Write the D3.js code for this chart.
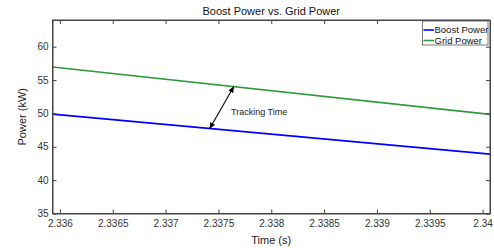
<!DOCTYPE html>
<html><head><meta charset="utf-8">
<script src="https://cdn.jsdelivr.net/npm/d3@7"></script>
<style>body{margin:0;background:#fff}svg{display:block;font-family:"Liberation Sans",Arial,sans-serif}</style>
</head><body>
<svg id="c" width="494" height="248"></svg>
<script>
const title = "Boost Power vs. Grid Power";
const xLabel = "Time (s)";
const yLabel = "Power (kW)";
const xDomain = [2.33593, 2.34007];
const yDomain = [35, 64];
const xTicks = [2.336, 2.3365, 2.337, 2.3375, 2.338, 2.3385, 2.339, 2.3395, 2.34];
const xTickLabels = ["2.336", "2.3365", "2.337", "2.3375", "2.338", "2.3385", "2.339", "2.3395", "2.34"];
const yTicks = [35, 40, 45, 50, 55, 60];
const time = [2.33593, 2.34007];
const boostPower = [49.9, 43.9];
const gridPower = [56.95, 49.85];
const seriesNames = ["Boost Power", "Grid Power"];
const seriesColors = ["#0000ff", "#2e9a3a"];
const annotation = "Tracking Time";
const arrowTimes = [2.337418, 2.337645]; // boost point, grid point

const svg = d3.select("#c");
const m = {l: 52.5, r: 490, t: 20, b: 213.5};
const x = d3.scaleLinear().domain(xDomain).range([m.l, m.r]);
const y = d3.scaleLinear().domain(yDomain).range([m.b, m.t]);
const axisCol = "#444";

// lines
const series = [boostPower, gridPower];
const line = d3.line().x((d, i) => x(time[i])).y(d => y(d));
svg.append("defs").append("clipPath").attr("id", "clip").append("rect")
  .attr("x", m.l).attr("y", m.t).attr("width", m.r - m.l).attr("height", m.b - m.t);
series.forEach((s, k) => {
  svg.append("path").datum(s).attr("d", line).attr("fill", "none")
    .attr("stroke", seriesColors[k]).attr("stroke-width", 1.6).attr("clip-path", "url(#clip)");
});

// axes
const tl = 4;
const gx = svg.append("g").attr("transform", `translate(0,${m.b})`)
  .call(d3.axisBottom(x).tickValues(xTicks).tickFormat((d, i) => xTickLabels[i]).tickSizeInner(-tl).tickSizeOuter(0).tickPadding(6));
const gxt = svg.append("g").attr("transform", `translate(0,${m.t})`)
  .call(d3.axisTop(x).tickValues(xTicks).tickFormat("").tickSizeInner(-tl).tickSizeOuter(0));
const gy = svg.append("g").attr("transform", `translate(${m.l},0)`)
  .call(d3.axisLeft(y).tickValues(yTicks).tickSizeInner(-tl).tickSizeOuter(0).tickPadding(4));
const gyr = svg.append("g").attr("transform", `translate(${m.r},0)`)
  .call(d3.axisRight(y).tickValues(yTicks).tickFormat("").tickSizeInner(-tl).tickSizeOuter(0));
[gx, gxt, gy, gyr].forEach(g => {
  g.selectAll(".domain").attr("stroke", axisCol);
  g.selectAll(".tick line").attr("stroke", axisCol);
  g.selectAll("text").attr("fill", "#333").style("font-size", "10px").style("font-family", "Liberation Sans, Arial, sans-serif");
});
gx.selectAll("text").attr("dy", "0.71em").attr("y", 6);

// title and labels
svg.append("text").attr("x", (m.l + m.r) / 2).attr("y", 15).attr("text-anchor", "middle")
  .style("font-size", "11px").attr("fill", "#111").text(title);
svg.append("text").attr("x", (m.l + m.r) / 2).attr("y", 244).attr("text-anchor", "middle")
  .style("font-size", "11px").attr("fill", "#222").text(xLabel);
svg.append("text").attr("transform", `translate(26,${(m.t + m.b) / 2}) rotate(-90)`).attr("text-anchor", "middle")
  .style("font-size", "11px").attr("fill", "#222").text(yLabel);

// arrow annotation
const interp = (s, t) => s[0] + (s[1] - s[0]) * (t - time[0]) / (time[1] - time[0]);
const p1 = [x(arrowTimes[0]), y(interp(boostPower, arrowTimes[0]))];
const p2 = [x(arrowTimes[1]), y(interp(gridPower, arrowTimes[1]))];
const defs = svg.select("defs");
defs.append("marker").attr("id", "ah").attr("viewBox", "0 0 10 10").attr("refX", 9).attr("refY", 5)
  .attr("markerWidth", 6).attr("markerHeight", 6).attr("orient", "auto-start-reverse")
  .append("path").attr("d", "M0,1 L10,5 L0,9 z").attr("fill", "#000");
svg.append("line").attr("x1", p1[0]).attr("y1", p1[1]).attr("x2", p2[0]).attr("y2", p2[1])
  .attr("stroke", "#000").attr("stroke-width", 1.1)
  .attr("marker-start", "url(#ah)").attr("marker-end", "url(#ah)");
svg.append("text").attr("x", 231).attr("y", 115).style("font-size", "9px").attr("fill", "#222").text(annotation);

// box
svg.append("rect").attr("x", m.l).attr("y", m.t).attr("width", m.r - m.l).attr("height", m.b - m.t)
  .attr("fill", "none").attr("stroke", axisCol).attr("stroke-width", 1);

// legend
const lg = svg.append("g");
lg.append("rect").attr("x", 422.5).attr("y", 21).attr("width", 65.5).attr("height", 24)
  .attr("fill", "#fff").attr("stroke", "#555").attr("stroke-width", 0.8);
seriesNames.forEach((n, i) => {
  const yy = 30 + i * 10.5;
  lg.append("line").attr("x1", 423.5).attr("x2", 434).attr("y1", yy).attr("y2", yy)
    .attr("stroke", seriesColors[i]).attr("stroke-width", 1.6);
  lg.append("text").attr("x", 434.5).attr("y", yy + 3.4).style("font-size", "9.5px").attr("fill", "#111").text(n);
});
</script>
</body></html>
